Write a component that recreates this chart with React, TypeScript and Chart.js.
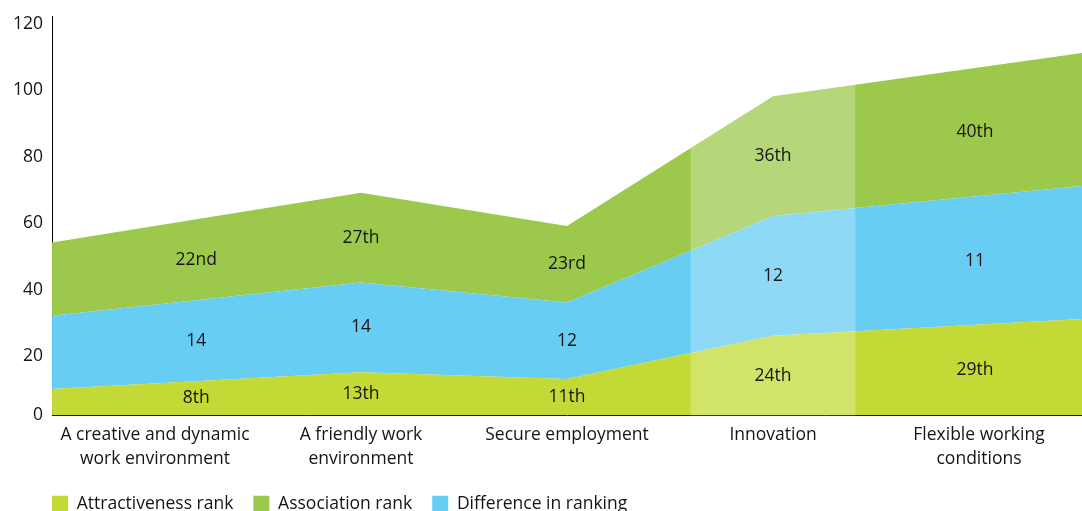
import React, { useEffect, useRef } from 'react';
import { Chart, registerables } from 'chart.js';

Chart.register(...registerables);

// ---- data ----
const categories: (string | string[])[] = [
  ['A creative and dynamic', 'work environment'],
  ['A friendly work', 'environment'],
  'Secure employment',
  'Innovation',
  ['Flexible working', 'conditions'],
];
const attractivenessRank = [8, 13, 11, 24, 29];
const associationRank = [22, 27, 23, 36, 40];
const differenceInRanking = [14, 14, 12, 12, 11];
const attractivenessLabels = ['8th', '13th', '11th', '24th', '29th'];
const associationLabels = ['22nd', '27th', '23rd', '36th', '40th'];
// where each category's area vertex sits (category index units; ends run to the plot edges)
const vertexIndex = [-0.5, 1, 2, 3, 4.5];
// where each category's value labels sit (category index units)
const labelIndex = [0.2, 1, 2, 3, 3.98];
const highlightedCategory = 3; // Innovation
const yMax = 120;
const yStep = 20;

const FONT = 'Open Sans';
const FS = 17.5;
const TEXT = '#151515';
const YELLOW = '#c3d936';
const GREEN = '#9cc94b';
const BLUE = '#67cdf3';

const bandLabels = {
  id: 'bandLabels',
  afterDatasetsDraw(chart: any) {
    const { ctx } = chart;
    const xs = chart.scales.xv;
    const ys = chart.scales.y;
    const tops = [0, 1, 2].map((d) =>
      chart.getDatasetMeta(d).data.map((p: any) => ({ x: p.x, y: p.y }))
    );
    const at = (pts: { x: number; y: number }[], px: number) => {
      for (let j = 0; j < pts.length - 1; j++) {
        const a = pts[j];
        const b = pts[j + 1];
        if (px >= a.x && px <= b.x) return a.y + ((b.y - a.y) * (px - a.x)) / (b.x - a.x);
      }
      return pts[pts.length - 1].y;
    };
    const base = ys.getPixelForValue(0);
    ctx.save();
    ctx.font = `${FS}px "${FONT}"`;
    ctx.fillStyle = TEXT;
    ctx.textAlign = 'center';
    ctx.textBaseline = 'middle';
    labelIndex.forEach((pos, i) => {
      const px = xs.getPixelForValue(pos);
      const t0 = at(tops[0], px);
      const t1 = at(tops[1], px);
      const t2 = at(tops[2], px);
      ctx.fillText(attractivenessLabels[i], px, (base + t0) / 2);
      ctx.fillText(String(differenceInRanking[i]), px, (t0 + t1) / 2);
      ctx.fillText(associationLabels[i], px, (t1 + t2) / 2);
    });
    ctx.restore();
  },
};

const legendShift = {
  id: 'legendShift',
  afterLayout(chart: any) {
    const l = chart.legend;
    if (!l) return;
    l.left += 28;
    l.right += 28;
    l.top -= 4.5;
    l.bottom -= 4.5;
  },
};

export default function App() {
  const ref = useRef<HTMLCanvasElement>(null);
  useEffect(() => {
    if (!ref.current) return;
    const pts = (vals: number[]) => vals.map((v, i) => ({ x: vertexIndex[i], y: v }));
    const legendRank: Record<number, number> = { 0: 0, 2: 1, 1: 2 };
    const chart = new Chart(ref.current, {
      type: 'line',
      data: {
        labels: categories as any,
        datasets: [
          {
            label: 'Attractiveness rank',
            data: pts(attractivenessRank),
            xAxisID: 'xv',
            backgroundColor: YELLOW,
            borderColor: 'rgba(0,0,0,0)',
            borderWidth: 0,
            pointRadius: 0,
            fill: 'origin',
            tension: 0,
            stack: 'areas',
            order: 1,
          },
          {
            label: 'Difference in ranking',
            data: pts(associationRank),
            xAxisID: 'xv',
            backgroundColor: BLUE,
            borderColor: 'rgba(0,0,0,0)',
            borderWidth: 0,
            pointRadius: 0,
            fill: '-1',
            tension: 0,
            stack: 'areas',
            order: 1,
          },
          {
            label: 'Association rank',
            data: pts(associationRank),
            xAxisID: 'xv',
            backgroundColor: GREEN,
            borderColor: 'rgba(0,0,0,0)',
            borderWidth: 0,
            pointRadius: 0,
            fill: '-1',
            tension: 0,
            stack: 'areas',
            order: 1,
          },
          {
            type: 'bar',
            label: 'highlight',
            data: categories.map((_, i) => (i === highlightedCategory ? [-0.5, yMax] : null)) as any,
            xAxisID: 'x',
            backgroundColor: 'rgba(255,255,255,0.26)',
            borderWidth: 0,
            categoryPercentage: 0.8,
            barPercentage: 1,
            grouped: false,
            stack: 'band',
            order: 0,
          } as any,
        ],
      },
      options: {
        animation: false,
        responsive: false,
        layout: { padding: { left: 4, right: 0, top: 0, bottom: -16 } },
        scales: {
          x: {
            type: 'category',
            offset: true,
            grid: { display: false, drawTicks: false },
            border: { display: true, color: '#000', width: 1 },
            ticks: {
              color: TEXT,
              font: { family: FONT, size: FS, lineHeight: '24px' as any },
              padding: 8,
              maxRotation: 0,
              autoSkip: false,
            },
          },
          xv: {
            type: 'linear',
            display: false,
            min: -0.5,
            max: 4.5,
          },
          y: {
            type: 'linear',
            stacked: true,
            min: 0,
            max: yMax,
            grid: { display: false, drawTicks: false },
            border: { display: true, color: '#000', width: 1 },
            ticks: {
              stepSize: yStep,
              color: TEXT,
              font: { family: FONT, size: FS, lineHeight: '15px' as any },
              padding: 9,
              labelOffset: 7.5,
              callback: (v: any) => (Number(v) === 0 ? ['0', ''] : String(v)),
            },
          },
        },
        plugins: {
          tooltip: { enabled: false },
          legend: {
            position: 'bottom',
            align: 'start',
            labels: {
              boxWidth: 16,
              boxHeight: 16,
              padding: 20,
              color: TEXT,
              font: { family: FONT, size: FS },
              filter: (item: any) => item.datasetIndex !== 3,
              sort: (a: any, b: any) => legendRank[a.datasetIndex] - legendRank[b.datasetIndex],
            },
          },
        },
      },
      plugins: [bandLabels, legendShift],
    });
    return () => chart.destroy();
  }, []);

  return (
    <div style={{ position: 'absolute', left: 0, top: 0, width: 1082, height: 511, background: '#fff' }}>
      <canvas ref={ref} width={1082} height={511} />
    </div>
  );
}
